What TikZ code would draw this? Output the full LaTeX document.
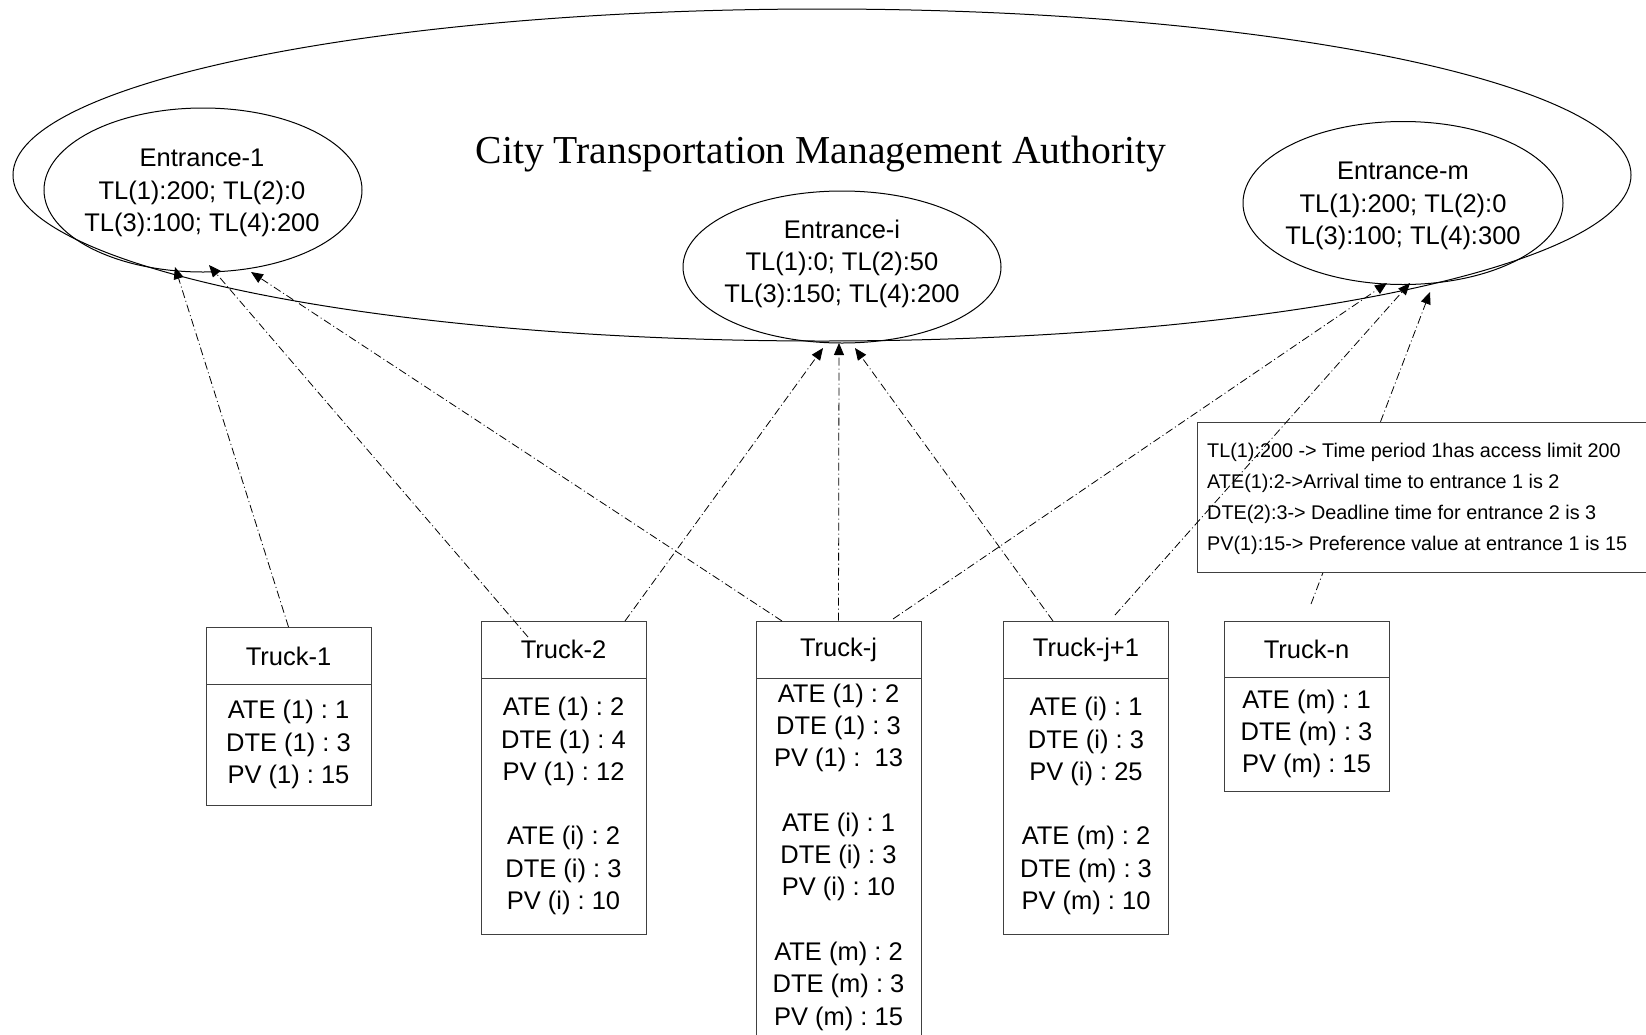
\documentclass[tikz,border=0pt]{standalone}
\usepackage{fontspec}
\setmainfont{Liberation Sans}
\newfontfamily\serifttl{Liberation Serif}
\usetikzlibrary{arrows.meta,shapes.geometric}
\frenchspacing
\newcommand\trkfont{\fontsize{25.5}{32.3}\selectfont}
\newcommand\legfont{\fontsize{19.8}{31}\selectfont}
\newcommand\ttlfont{\serifttl\fontsize{39.6}{44}\selectfont}
\definecolor{boxc}{RGB}{64,64,64}
\begin{document}
\begin{tikzpicture}[x=1pt,y=-1pt,
  ell/.style={draw=black, line width=1pt, ellipse, inner sep=0pt},
  etext/.style={font=\trkfont, align=center, inner sep=0pt},
  hdr/.style={draw=boxc, line width=1pt, minimum width=165pt, minimum height=57pt, inner sep=0pt, font=\trkfont},
  body/.style={draw=boxc, line width=1pt, minimum width=165pt, inner sep=0pt, align=center, font=\trkfont},
  conn/.style={line width=0.8pt, dash pattern=on 8pt off 3pt on 1pt off 3pt, -{Triangle[length=12pt,width=10pt]}},
  legbox/.style={draw=boxc, line width=1pt, fill=white, minimum width=453pt, minimum height=150pt, inner sep=0pt},
  legtxt/.style={font=\legfont, align=left, anchor=west, inner sep=0pt}]
\useasboundingbox (0,0) rectangle (1646,1034);

% outer authority ellipse and title
\node[ell, minimum width=1618pt, minimum height=332pt] (cta) at (822,175) {};
\node[font=\ttlfont, inner sep=0pt] (title) at (821,154) {City Transportation Management Authority};

% entrances
\node[ell, minimum width=318pt, minimum height=164pt] (e1) at (203,190) {};
\node[etext] (e1t) at (202,193) {Entrance-1\\TL(1):200; TL(2):0\\TL(3):100; TL(4):200};
\node[ell, minimum width=318pt, minimum height=152pt] (ei) at (842,267) {};
\node[etext] (eit) at (842,264) {Entrance-i\\TL(1):0; TL(2):50\\TL(3):150; TL(4):200};
\node[ell, minimum width=320pt, minimum height=163pt] (em) at (1403,203) {};
\node[etext] (emt) at (1403,206) {Entrance-m\\TL(1):200; TL(2):0\\TL(3):100; TL(4):300};

% trucks
\node[hdr] (t1h) at (288.5,656) {Truck-1};
\node[body, minimum height=121pt] (t1b) at (288.5,744.5) {ATE (1) : 1\\DTE (1) : 3\\PV (1) : 15};

\node[hdr] (t2h) at (563.5,649.5) {Truck-2};
\node[body, minimum height=256pt] (t2b) at (563.5,806) {ATE (1) : 2\\DTE (1) : 4\\PV (1) : 12\\[32.3pt]ATE (i) : 2\\DTE (i) : 3\\PV (i) : 10};

\node[hdr] (tjh) at (838.5,649.5) {Truck-j};
\node[body, minimum height=358pt] (tjb) at (838.5,857) {ATE (1) : 2\\DTE (1) : 3\\PV (1) :\ \ 13\\[32.3pt]ATE (i) : 1\\DTE (i) : 3\\PV (i) : 10\\[32.3pt]ATE (m) : 2\\DTE (m) : 3\\PV (m) : 15};

\node[hdr] (tj1h) at (1086,649.5) {Truck-j+1};
\node[body, minimum height=256pt] (tj1b) at (1086,806) {ATE (i) : 1\\DTE (i) : 3\\PV (i) : 25\\[32.3pt]ATE (m) : 2\\DTE (m) : 3\\PV (m) : 10};

\node[hdr, minimum height=56pt] (tnh) at (1306.5,649) {Truck-n};
\node[body, minimum height=114pt] (tnb) at (1306.5,734) {ATE (m) : 1\\DTE (m) : 3\\PV (m) : 15};

% connector end points
\coordinate (e1a) at (175,267);
\coordinate (e1b) at (209,265);
\coordinate (e1c) at (251,272);
\coordinate (eia) at (823,348);
\coordinate (eib) at (839,343);
\coordinate (eic) at (855,348);
\coordinate (ema) at (1387,283);
\coordinate (emb) at (1410,283);
\coordinate (emc) at (1430,292);
\coordinate (t2in) at (528,637);
\coordinate (t2R) at (625,621);
\coordinate (tjL) at (782,621);
\coordinate (tjR) at (893,619);
\coordinate (tj1L) at (1053,621);
\coordinate (tj1R) at (1115,615);
\coordinate (tnS) at (1311,604);

% Truck-n connector (hidden behind legend)
\draw[conn] (tnS) -- (emc);

% legend
\node[legbox] (leg) at (1423.5,497) {};
\node[legtxt] (legt) at (1207,498.5) {TL(1):200 -> Time period 1has access limit 200\\ATE(1):2->Arrival time to entrance 1 is 2\\DTE(2):3-> Deadline time for entrance 2 is 3\\PV(1):15-> Preference value at entrance 1 is 15};

% connectors
\draw[conn] (t1h.north) -- (e1a);
\draw[conn] (t2in) -- (e1b);
\draw[conn] (tjL) -- (e1c);
\draw[conn] (t2R) -- (eia);
\draw[conn] (tjh.north) -- (eib);
\draw[conn] (tj1L) -- (eic);
\draw[conn] (tjR) -- (ema);
\draw[conn] (tj1R) -- (emb);
\end{tikzpicture}
\end{document}
